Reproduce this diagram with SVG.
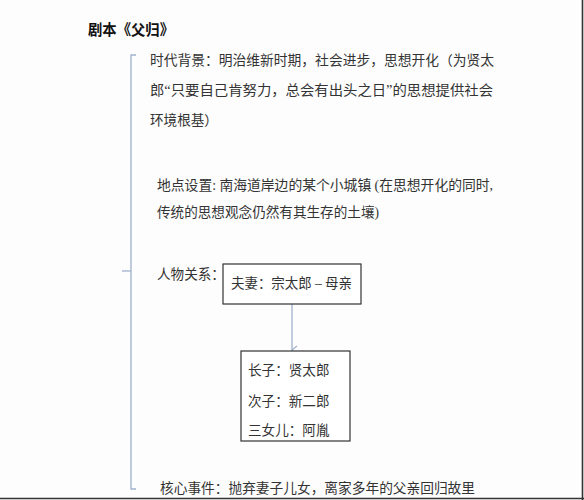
<svg xmlns="http://www.w3.org/2000/svg" width="584" height="500" viewBox="0 0 584 500">
<style>
.t{font-family:"Liberation Serif","Noto Sans CJK SC",serif;font-size:13.6px;fill:#333}
.h{font-family:"Liberation Sans","Noto Sans CJK SC",sans-serif;font-size:15px;font-weight:bold;fill:#111}
.b{fill:#fff;stroke:#333;stroke-width:1.2}
.c{fill:none;stroke:#9fb2cc;stroke-width:1.3}
</style>
<defs>
<marker id="ah" markerWidth="10" markerHeight="10" refX="5" refY="8" orient="auto" markerUnits="userSpaceOnUse">
<path d="M1,3 L5,8 L9,3" fill="none" stroke="#9fb2cc" stroke-width="1.2"/>
</marker>
</defs>
<rect width="584" height="500" fill="#fdfdfd"/>
<line x1="582.5" y1="0" x2="582.5" y2="500" stroke="#333" stroke-width="1.6"/>
<line x1="0" y1="498.5" x2="584" y2="498.5" stroke="#333" stroke-width="1.6"/>
<g id="title"><text class="h" x="88" y="35" textLength="86" lengthAdjust="spacingAndGlyphs">剧本《父归》</text></g>
<g id="connectors">
<path class="c" d="M136,55 H131 V489 H136"/>
<line class="c" x1="122" y1="271" x2="131" y2="271"/>
<line class="c" x1="292" y1="304" x2="292" y2="350" marker-end="url(#ah)"/>
</g>
<g id="era">
<text class="t" x="150" y="65" textLength="344" lengthAdjust="spacingAndGlyphs">时代背景：明治维新时期，社会进步，思想开化（为贤太</text>
<text class="t" x="150" y="95" textLength="343" lengthAdjust="spacingAndGlyphs">郎“只要自己肯努力，总会有出头之日”的思想提供社会</text>
<text class="t" x="150" y="125">环境根基）</text>
</g>
<g id="place">
<text class="t" x="157" y="190" textLength="336" lengthAdjust="spacingAndGlyphs">地点设置: 南海道岸边的某个小城镇 (在思想开化的同时,</text>
<text class="t" x="157" y="217">传统的思想观念仍然有其生存的土壤)</text>
</g>
<g id="people"><text class="t" x="157" y="279">人物关系：</text></g>
<g id="couple">
<rect class="b" x="223" y="264" width="138" height="40"/>
<text class="t" x="231" y="288" textLength="121" lengthAdjust="spacingAndGlyphs">夫妻：宗太郎 – 母亲</text>
</g>
<g id="children">
<rect class="b" x="241" y="351" width="109" height="90"/>
<text class="t" x="248" y="375">长子：贤太郎</text>
<text class="t" x="248" y="406">次子：新二郎</text>
<text class="t" x="248" y="435">三女儿：阿胤</text>
</g>
<g id="event"><text class="t" x="160" y="493" textLength="315" lengthAdjust="spacingAndGlyphs">核心事件：抛弃妻子儿女，离家多年的父亲回归故里</text></g>
</svg>
